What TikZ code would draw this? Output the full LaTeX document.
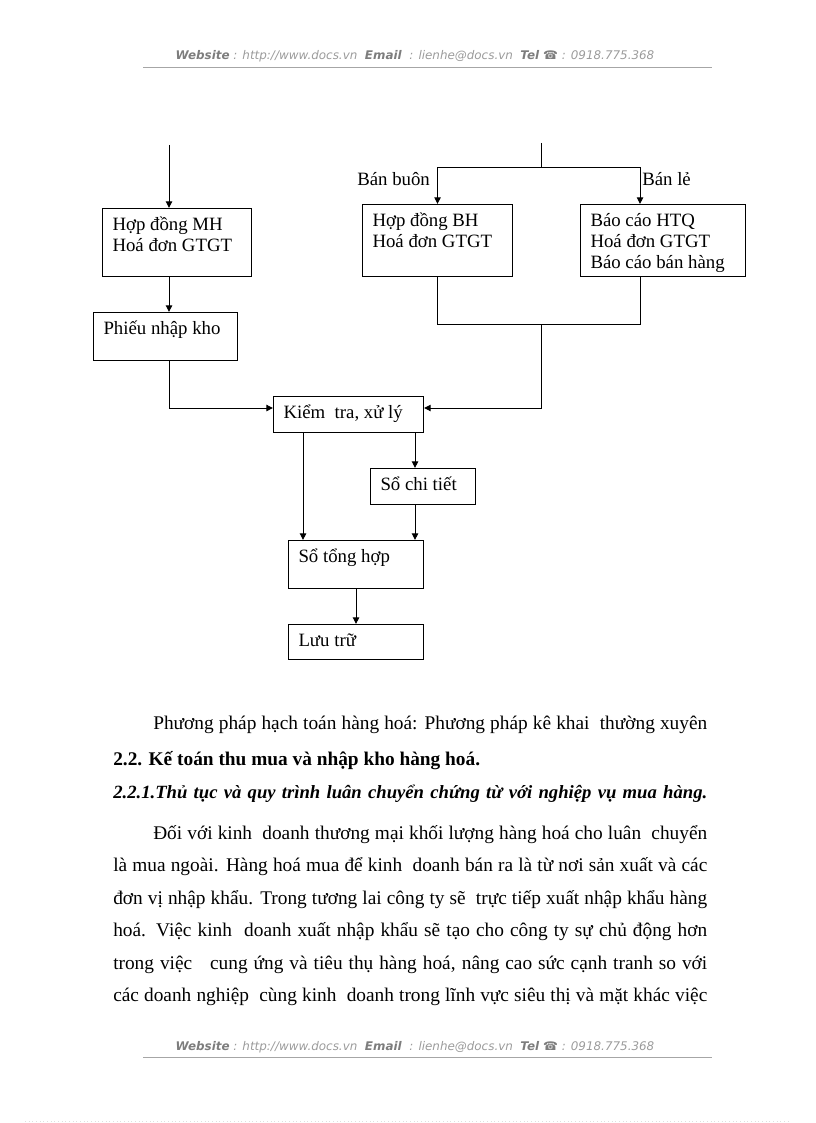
\documentclass[tikz,border=0pt]{standalone}
\usepackage{fontspec}
\setmainfont{Liberation Serif}
\newfontfamily\hdrfont{DejaVu Sans}
\usetikzlibrary{arrows.meta}
\definecolor{hdrdark}{RGB}{125,125,125}
\definecolor{hdrlight}{RGB}{155,155,155}
\newcommand\bx[3]{\parbox[c][#2][t]{#1}{\raggedright\leftskip=7.5pt\baselineskip=15.75pt\rule{0pt}{16.5pt}#3}}
\newcommand\jline[2]{\makebox[#1][s]{#2}}
\begin{document}
\begin{tikzpicture}[x=0.75pt,y=-0.75pt,
  box/.style={draw, line width=0.75pt, inner sep=0pt, anchor=north west, font=\fontsize{14.1}{15.75}\selectfont},
  arr/.style={line width=0.75pt, -{Triangle[length=5pt,width=4.8pt]}},
  ln/.style={line width=0.75pt},
  body/.style={anchor=base west, inner sep=0pt, font=\fontsize{14.5}{16}\selectfont},
  lbl/.style={anchor=base west, inner sep=0pt, font=\fontsize{14.1}{16}\selectfont},
  rule/.style={draw=gray!70, line width=0.6pt}]
\useasboundingbox (0,0) rectangle (816,1123);

% header and footer
\node[anchor=base, inner sep=0pt] (hd) at (415,60) {\resizebox{359pt}{!}{\hdrfont\fontsize{8.5}{10}\selectfont\textcolor{hdrdark}{\textbf{\textit{Website}}}\textcolor{hdrlight}{\textit{ : http://www.docs.vn\ \ }}\textcolor{hdrdark}{\textbf{\textit{Email}}}\textcolor{hdrlight}{\textit{\ \ : lienhe@docs.vn\ \ }}\textcolor{hdrdark}{\textbf{\textit{Tel}} ☎}\textcolor{hdrlight}{\textit{ : 0918.775.368}}}};
\coordinate (hl1) at (143,67);
\coordinate (hl2) at (712,67);
\draw[rule] (hl1) -- (hl2);
\node[anchor=base, inner sep=0pt] (ft) at (415,1050) {\resizebox{359pt}{!}{\hdrfont\fontsize{8.5}{10}\selectfont\textcolor{hdrdark}{\textbf{\textit{Website}}}\textcolor{hdrlight}{\textit{ : http://www.docs.vn\ \ }}\textcolor{hdrdark}{\textbf{\textit{Email}}}\textcolor{hdrlight}{\textit{\ \ : lienhe@docs.vn\ \ }}\textcolor{hdrdark}{\textbf{\textit{Tel}} ☎}\textcolor{hdrlight}{\textit{ : 0918.775.368}}}};
\coordinate (fl1) at (143,1057);
\coordinate (fl2) at (712,1057);
\draw[rule] (fl1) -- (fl2);
\coordinate (bd1) at (25,1121.5);
\coordinate (bd2) at (790,1121.5);
\draw[gray!25, dotted, line width=0.75pt] (bd1) -- (bd2);

% boxes
\node[box] (b1) at (102,208) {\bx{111.75pt}{51pt}{Hợp đồng MH\\Hoá đơn GTGT}};
\node[box] (b2) at (93,312) {\bx{108pt}{36pt}{Phiếu nhập kho}};
\node[box] (b3) at (362,204) {\bx{112.5pt}{54pt}{Hợp đồng BH\\Hoá đơn GTGT}};
\node[box] (b4) at (580,204) {\bx{123.75pt}{54pt}{Báo cáo HTQ\\Hoá đơn GTGT\\Báo cáo bán hàng}};
\node[box] (kt) at (273,396) {\bx{112.5pt}{27pt}{Kiểm\ \ tra, xử lý}};
\node[box] (sct) at (370,468) {\bx{78.75pt}{27pt}{Sổ chi tiết}};
\node[box] (sth) at (288,540) {\bx{101.25pt}{36pt}{Sổ tổng hợp}};
\node[box] (lt) at (288,624) {\bx{101.25pt}{26.25pt}{Lưu trữ}};

\node[lbl] (bb) at (357,186) {Bán buôn};
\node[lbl] (bl) at (642,186) {Bán lẻ};

% helper coordinates
\coordinate (in1) at (169,145);
\coordinate (in2) at (541,143);
\coordinate (j1) at (541,168);
\coordinate (j2) at (541,324);
\coordinate (xr) at (640,0);
\coordinate (yk) at (0,408);
\coordinate (xa) at (303,0);
\coordinate (xb) at (415,0);

% connectors
\draw[arr] (in1) -- (in1 |- b1.north);
\draw[arr] (in1 |- b1.south) -- (in1 |- b2.north);
\draw[arr] (in1 |- b2.south) |- (kt.west |- yk);
\draw[ln] (in2) -- (j1);
\draw[arr] (j1) -| (b3.north);
\draw[arr] (j1) -| (xr |- b4.north);
\draw[ln] (b3.south) |- (j2);
\draw[ln] (xr |- b4.south) |- (j2);
\draw[arr] (j2) |- (kt.east |- yk);
\draw[arr] (xb |- kt.south) -- (xb |- sct.north);
\draw[arr] (xa |- kt.south) -- (xa |- sth.north);
\draw[arr] (xb |- sct.south) -- (xb |- sth.north);
\draw[arr] (sth.south) -- (lt.north);

% body text
\node[body] (t1) at (153,729) {\jline{415.5pt}{Phương pháp hạch toán hàng hoá: Phương pháp kê khai\ \ thường xuyên}};
\node[body, font=\fontsize{14.5}{16}\selectfont\bfseries] (t2) at (113,765) {2.2. Kế toán thu mua và nhập kho hàng hoá.};
\node[body, font=\fontsize{14}{16}\selectfont\bfseries\itshape] (t3) at (113,798) {\jline{445.5pt}{2.2.1.Thủ tục và quy trình luân chuyển chứng từ với nghiệp vụ mua hàng.}};
\node[body] (p1) at (153,839) {\jline{415.5pt}{Đối với kinh\ \ doanh thương mại khối lượng hàng hoá cho luân\ \ chuyển}};
\node[body] (p2) at (113,871.5) {\jline{445.5pt}{là mua ngoài. Hàng hoá mua để kinh\ \ doanh bán ra là từ nơi sản xuất và các}};
\node[body] (p3) at (113,904) {\jline{445.5pt}{đơn vị nhập khẩu. Trong tương lai công ty sẽ\ \ trực tiếp xuất nhập khẩu hàng}};
\node[body] (p4) at (113,936.5) {\jline{445.5pt}{hoá. Việc kinh\ \ doanh xuất nhập khẩu sẽ tạo cho công ty sự chủ động hơn}};
\node[body] (p5) at (113,969) {\jline{445.5pt}{trong việc\ \ \ cung ứng và tiêu thụ hàng hoá, nâng cao sức cạnh tranh so với}};
\node[body] (p6) at (113,1001.5) {\jline{445.5pt}{các doanh nghiệp\ \ cùng kinh\ \ doanh trong lĩnh vực siêu thị và mặt khác việc}};
\end{tikzpicture}
\end{document}
